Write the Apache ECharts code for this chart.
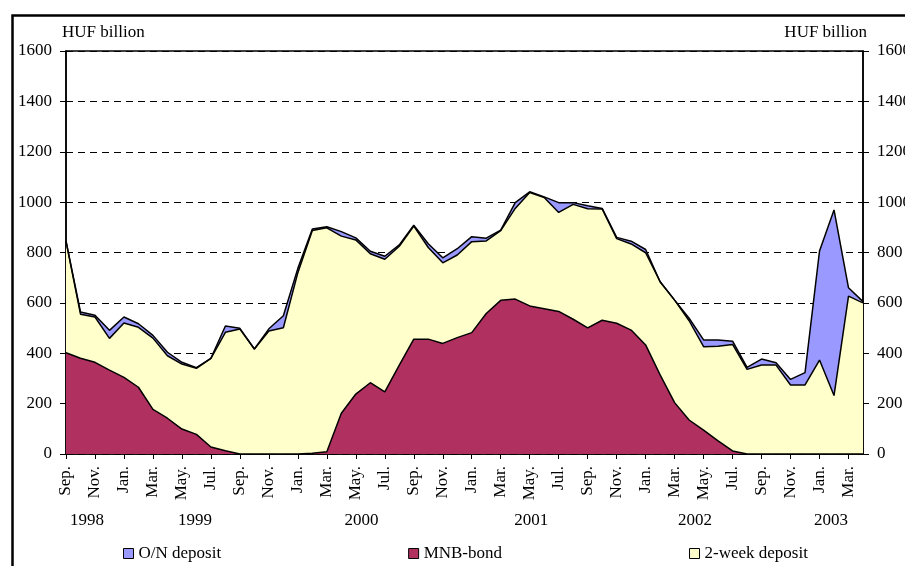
<!DOCTYPE html>
<html><head><meta charset="utf-8">
<script src="https://cdn.jsdelivr.net/npm/echarts@6/dist/echarts.min.js"></script>
<style>html,body{margin:0;padding:0;background:#fff}#c{width:905px;height:566px}</style>
</head><body><div id="c"></div>
<script>
// Monthly, Sep 1998 .. Apr 2003
const months = [
 'Sep.','Oct.','Nov.','Dec.',
 'Jan.','Feb.','Mar.','Apr.','May.','Jun.','Jul.','Aug.','Sep.','Oct.','Nov.','Dec.',
 'Jan.','Feb.','Mar.','Apr.','May.','Jun.','Jul.','Aug.','Sep.','Oct.','Nov.','Dec.',
 'Jan.','Feb.','Mar.','Apr.','May.','Jun.','Jul.','Aug.','Sep.','Oct.','Nov.','Dec.',
 'Jan.','Feb.','Mar.','Apr.','May.','Jun.','Jul.','Aug.','Sep.','Oct.','Nov.','Dec.',
 'Jan.','Feb.','Mar.','Apr.'
];
const years = ['1998','1999','2000','2001','2002','2003'];
const yTicks = [0,200,400,600,800,1000,1200,1400,1600];

const mnbBond = [402,380,364,333,304,265,177,142,99,78,28,13,0,0,0,0,
 0,3,9,162,238,283,247,353,456,456,439,462,
 482,558,610,615,588,577,566,535,501,531,519,492,
 433,314,204,135,95,52,12,0,0,0,0,0,
 0,0,0,0];
const twoWeek = [443,175,180,126,216,238,283,248,258,262,352,470,496,417,488,501,
 720,884,889,703,612,512,526,472,449,364,320,328,
 361,288,277,360,450,441,393,456,473,442,336,342,
 366,370,407,394,331,376,423,336,353,353,274,274,
 373,232,627,600];
const onDeposit = [0,9,7,32,24,14,11,14,7,3,0,25,3,0,9,48,
 17,6,4,18,8,10,12,5,3,15,20,25,
 20,11,2,23,3,3,39,7,12,2,5,11,
 13,0,0,10,27,25,13,8,24,9,22,49,
 433,737,33,5];

const FONT = 'Liberation Serif';
const txt = {fontFamily: FONT, fontSize: 17, color: '#000'};

const chart = echarts.init(document.getElementById('c'), null, {renderer: 'canvas'});
const yearPos = [1.45, 8.9, 20.4, 32.1, 43.4, 52.8];

function areaSeries(name, data, fill) {
  return {
    name, type: 'line', stack: 'total', data,
    showSymbol: false, symbol: 'none',
    itemStyle: {color: fill, borderColor: '#000', borderWidth: 1},
    lineStyle: {color: '#000', width: 1.5},
    areaStyle: {color: fill, opacity: 1},
    emphasis: {disabled: true},
    animation: false
  };
}

chart.setOption({
  animation: false,
  backgroundColor: '#fff',
  grid: {left: 66, right: 42, top: 51, bottom: 112, outerBoundsMode: 'none', containLabel: false,
         show: true, borderColor: '#000', borderWidth: 1.5, backgroundColor: 'transparent'},
  graphic: [{
    type: 'rect', left: 10, top: 13, z: 100, silent: true,
    shape: {x: 0, y: 0, width: 1200, height: 1000},
    style: {fill: 'none', stroke: '#000', lineWidth: 2.5}
  }],
  legend: {
    left: 123, top: 545, padding: 0, itemGap: 187,
    itemWidth: 10, itemHeight: 10, itemTextGap: 5,
    icon: 'rect',
    data: ['O/N deposit', 'MNB-bond', '2-week deposit'],
    itemStyle: {borderColor: '#000', borderWidth: 1},
    textStyle: txt,
    selectedMode: false
  },
  xAxis: [{
    type: 'category', data: months, boundaryGap: false, position: 'bottom',
    axisLine: {show: true, lineStyle: {color: '#000', width: 1.5}},
    axisTick: {show: true, interval: 1, length: 5, lineStyle: {color: '#000', width: 1}},
    axisLabel: Object.assign({interval: 1, rotate: 90, margin: 12}, txt),
    splitLine: {show: false}
  }, {
    type: 'value', min: 0, max: months.length - 1, position: 'bottom',
    axisLine: {show: false}, axisTick: {show: false}, splitLine: {show: false},
    axisLabel: Object.assign({
      customValues: yearPos,
      margin: 58,
      formatter: function (v) { const k = yearPos.indexOf(v); return k >= 0 ? years[k] : ''; }
    }, txt)
  }],
  yAxis: [{
    type: 'value', min: 0, max: 1600, interval: 200, position: 'left',
    name: 'HUF billion', nameLocation: 'end', nameGap: 18,
    nameTextStyle: Object.assign({align: 'left', verticalAlign: 'middle', padding: [0, 0, 0, -4]}, txt),
    axisLine: {show: true, lineStyle: {color: '#000', width: 1.5}},
    axisTick: {show: true, length: 6, lineStyle: {color: '#000'}},
    axisLabel: Object.assign({margin: 14, formatter: v => String(v)}, txt),
    splitLine: {show: true, lineStyle: {color: '#000', width: 1, type: [7, 5]}}
  }, {
    type: 'value', min: 0, max: 1600, interval: 200, position: 'right',
    name: 'HUF billion', nameLocation: 'end', nameGap: 18,
    nameTextStyle: Object.assign({align: 'right', verticalAlign: 'middle', padding: [0, -4, 0, 0]}, txt),
    axisLine: {show: true, lineStyle: {color: '#000', width: 1.5}},
    axisTick: {show: true, length: 6, lineStyle: {color: '#000'}},
    axisLabel: Object.assign({margin: 14, formatter: v => String(v)}, txt),
    splitLine: {show: false}
  }],
  series: [
    areaSeries('MNB-bond', mnbBond, '#B03060'),
    areaSeries('2-week deposit', twoWeek, '#FFFFCC'),
    areaSeries('O/N deposit', onDeposit, '#9999FF')
  ]
});
</script>
</body></html>
